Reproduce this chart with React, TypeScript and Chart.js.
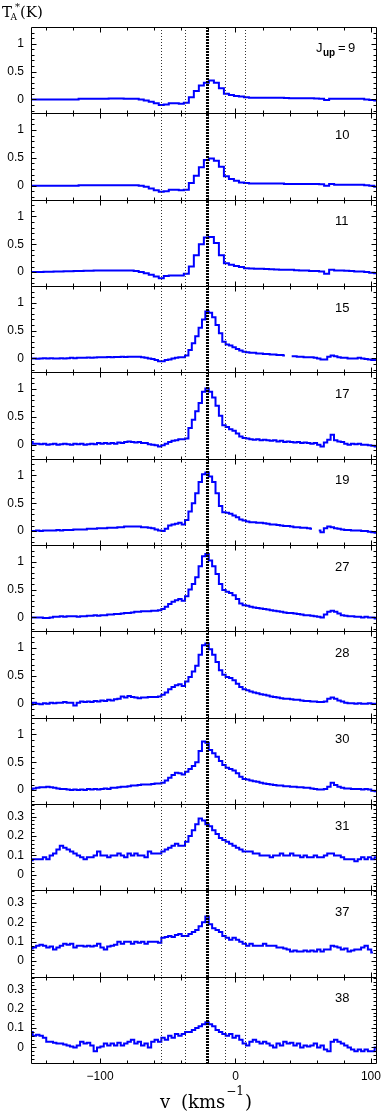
import React, { useEffect, useRef } from 'react';
import { Chart, registerables } from 'chart.js';

Chart.register(...registerables);

// ---- channel axis (km/s) ----
const V_START = -151;
const DV_COARSE = 3.7;
const DV_FINE = 2.5;
const X_MIN = -151;
const X_MAX = 104.5;

// ---- labels / reference values ----
const panelLabels = ['9', '10', '11', '15', '17', '19', '27', '28', '30', '31', '37', '38'];
const xTickValues = [-100, 0, 100];
const refVelocities = [-55, -37, -8, 7];
const systemicVelocity = -21;
const strongTicks = [0, 0.5, 1];
const weakTicks = [0, 0.1, 0.2, 0.3];
const strongRange = [-0.25, 1.3];
const weakRange = [-0.08, 0.365];

// ---- spectra (T_A* in K) ----
const j9 = [
  0, 0, 0, 0, 0, 0, 0, 0, 0, 0,
  0.01, 0.01, 0.01, 0.01, 0.012, 0.012, 0.015, 0.015, 0.015, 0.012, 0.012, 0.01,
  0, -0.02, -0.04, -0.07, -0.1, -0.09, -0.07, -0.07, -0.08, -0.06,
  0.04, 0.15, 0.25, 0.3, 0.34, 0.3, 0.2, 0.1, 0.08, 0.06, 0.05, 0.04,
  0.03, 0.03, 0.03, 0.03, 0.03, 0.03, 0.03,
  0.025, 0.02, 0.02, 0.02, 0.02, 0.02, 0.015, 0.01,
  -0.01, 0.01,
  0.01, 0.01, 0.012, 0.01, 0.01, 0.01,
  0, -0.01, -0.02,
];
const j10 = [
  0, 0, 0, 0, 0, 0, 0, 0, 0, 0,
  0.01, 0.01, 0.01, 0.01, 0.01, 0.01, 0.01, 0.01, 0.01, 0.01, 0.01, 0.01,
  0, -0.02, -0.05, -0.08, -0.11, -0.1, -0.07, -0.07, -0.08, -0.07,
  0.05, 0.18, 0.33, 0.46, 0.49, 0.45, 0.34, 0.17, 0.12, 0.09, 0.06, 0.05,
  0.04, 0.04, 0.04, 0.04, 0.04, 0.04, 0.04,
  0.03, 0.03, 0.03, 0.03, 0.03, 0.03, 0.03, 0.025,
  0, 0.03,
  0.02, 0.02, 0.02, 0.02, 0.02, 0.02,
  0.01, 0, -0.02,
];
const j11 = [
  0, 0, 0, 0.005, 0.005, 0.01,
  0.01, 0.015, 0.015, 0.02, 0.02,
  0.025, 0.025, 0.03, 0.03, 0.03, 0.03, 0.03, 0.03, 0.03, 0.03, 0.02,
  0, -0.02, -0.05, -0.08, -0.11, -0.07, -0.06, -0.06, -0.06, -0.03,
  0.1, 0.3, 0.5, 0.62, 0.63, 0.52, 0.3, 0.16, 0.13, 0.11, 0.09, 0.07,
  0.065, 0.06, 0.06, 0.055, 0.05,
  0.045, 0.04, 0.04, 0.04, 0.035, 0.03, 0.03,
  0.02, 0.02, 0.01,
  -0.03, 0.04,
  0.03, 0.03, 0.025, 0.02,
  0.01, 0.01,
  0, -0.01, -0.02,
];
const j15 = [
  0, 0, -0.005, 0, 0.005, 0, 0.005, 0, 0, 0.005, 0, 0.005, 0.01, 0.005, 0.01, 0.01, 0.01, 0.015, 0.01, 0.015,
  0.02, 0.02, 0.02, 0.025, 0.02, 0.025, 0.025, 0.03, 0.025, 0.03, 0.03, 0.03,
  0.03, 0.02, 0.01, 0, -0.01, -0.03, -0.05, -0.05, -0.03, -0.02, 0, 0.01, 0.02, 0.02,
  0.05, 0.15, 0.27, 0.4, 0.55, 0.7, 0.84, 0.82, 0.74, 0.6, 0.45, 0.3, 0.25, 0.23, 0.2, 0.17, 0.14, 0.12,
  0.11, 0.1, 0.1, 0.09, 0.09, 0.08, 0.08,
  0.07, 0.07, 0.06, 0.06, 0.05, null, 0.04, 0.04,
  0.03, 0.03, 0.02, 0.02, 0.02, 0.01, 0, -0.02,
  -0.02, 0.03, 0.05, 0.04, 0.02,
  0.01, 0.01, 0, 0, 0, 0.01, 0,
  -0.01, -0.02, -0.03, -0.03,
];
const j17 = [
  0.05, 0.02, 0.02, 0.01, 0.02, 0, 0.01, 0.02, 0, 0.01, 0.02, 0.01, 0, 0.02, 0.01, 0.02, 0, 0.01, 0.02, 0.01,
  0.03, 0.02, 0.03, 0.02, 0.03, 0.02, 0.04, 0.03, 0.05, 0.06, 0.05, 0.04, 0.05, 0.03, 0.03, 0.01, 0, -0.01, -0.03, -0.01,
  0.02, 0.05, 0.07, 0.08, 0.1, 0.1, 0.11, 0.3, 0.45, 0.6, 0.75, 0.95, 1.01, 0.95, 0.85, 0.7, 0.52, 0.35, 0.32, 0.28, 0.25, 0.2, 0.15, 0.12, 0.11,
  0.1, 0.09, 0.1, 0.08, 0.09, 0.08,
  0.07, 0.08, 0.06, 0.07, 0.05, 0.06, 0.05, 0.04, 0.05, 0.03,
  0.04, 0.03, 0.02, 0.03, 0, -0.03,
  0.04, 0.09, 0.18, 0.08, 0.06, 0.05, 0.02, 0, 0.02, 0.01, 0.02, 0, 0, -0.01, -0.02, -0.03,
];
const j19 = [
  0, 0, 0.01, 0, 0.01, 0.01,
  0.01, 0.01, 0.02, 0.01, 0.02,
  0.02, 0.02, 0.03, 0.03, 0.03,
  0.03, 0.04, 0.04, 0.04, 0.05,
  0.05, 0.05, 0.06, 0.06, 0.06,
  0.07, 0.07, 0.08, 0.08, 0.08,
  0.08, 0.08, 0.07, 0.07, 0.06,
  0.05, 0.03, 0.01, 0, 0.04, 0.1, 0.12, 0.13, 0.15, 0.12,
  0.2, 0.35, 0.5, 0.68, 0.88, 1.02, 1.05, 0.98, 0.88, 0.68, 0.45, 0.34, 0.33, 0.31, 0.28, 0.25, 0.21, 0.19, 0.17,
  0.16, 0.16, 0.15, 0.15, 0.14, 0.13,
  0.12, 0.12, 0.11, 0.1, 0.09, 0.09,
  0.08, 0.07, 0.07, 0.06, 0.06, 0.05,
  0.04, null, 0.01, -0.02, 0.05, 0.08, 0.07, 0.05,
  0.04, 0.03, 0.02, 0.02, 0.01,
  0.01, 0.01, 0, 0,
  -0.01, -0.02, -0.03,
];
const j27 = [
  0, 0, 0, 0, -0.01, -0.01,
  0, 0.01, 0.01, 0.02, 0.01,
  0.02, 0.02, 0.02, 0.01, 0.02,
  0.02, 0.03, 0.03, 0.04, 0.03,
  0.04, 0.04, 0.05, 0.05, 0.06,
  0.06, 0.07, 0.08, 0.08, 0.09,
  0.1, 0.1, 0.11, 0.11, 0.11,
  0.12, 0.12, 0.13,
  0.15, 0.19, 0.24, 0.28, 0.31, 0.33, 0.3, 0.38, 0.5, 0.6, 0.72, 0.92, 1.1, 1.14, 1.02, 0.92, 0.78, 0.6, 0.49, 0.46, 0.44, 0.4, 0.33, 0.25, 0.22, 0.21,
  0.19, 0.18, 0.17, 0.16, 0.15, 0.14,
  0.13, 0.12, 0.11, 0.1, 0.09, 0.08,
  0.08, 0.07, 0.06, 0.05, 0.04, 0.04,
  0.03, 0.02, 0.01, 0,
  0.05, 0.1, 0.12, 0.1,
  0.07, 0.04, 0.03, 0.02, 0.02,
  0.01, 0.01, 0, 0.01,
  0, 0, -0.02,
];
const j28 = [
  -0.02, 0.02, 0, -0.01, 0.01, 0, 0.02, 0.01, 0.02, 0.02, 0.03, 0.02, 0.02, -0.03, 0.02, 0.04, 0.03, 0.04, 0.03, 0.05, 0.04, 0.06, 0.05, 0.07, 0.06, 0.08, 0.09,
  0.13, 0.11, 0.14, 0.12, 0.11, 0.1, 0.11, 0.11, 0.12, 0.12, 0.12, 0.13,
  0.16, 0.2, 0.26, 0.3, 0.33, 0.35, 0.32, 0.4, 0.48, 0.58, 0.68, 0.88, 1.05, 1.08, 0.98, 0.88, 0.75, 0.6, 0.52, 0.48, 0.46, 0.42, 0.36, 0.3, 0.26, 0.24,
  0.22, 0.2, 0.19, 0.17, 0.16, 0.15,
  0.13, 0.12, 0.11, 0.1, 0.09, 0.09,
  0.08, 0.07, 0.07, 0.06, 0.05, 0.05,
  0.04, 0.04, 0.03, 0.03,
  0.04, 0.09, 0.11, 0.09,
  0.06, 0.04, 0.02, 0.01, 0.01,
  0, 0.01, 0, 0, 0.01, 0, 0,
];
const j30 = [
  0.02, 0.03, 0.04, 0.05, 0.05, 0.06, 0.05, 0.04, 0.03, 0.02, 0.02, 0.01, 0, 0.01, 0, 0.01, 0, 0.02, 0.01, 0.02,
  0.01, 0.02, 0.03, 0.02, 0.04, 0.04, 0.05, 0.06, 0.06, 0.07, 0.08, 0.08, 0.09, 0.1, 0.1, 0.1, 0.11, 0.12, 0.12, 0.13,
  0.17, 0.22, 0.27, 0.31, 0.3, 0.28, 0.33, 0.38, 0.43, 0.5, 0.7, 0.87, 0.85, 0.72, 0.66, 0.6, 0.52, 0.45, 0.4, 0.38, 0.35, 0.3, 0.24, 0.2, 0.19,
  0.17, 0.16, 0.15, 0.13, 0.12, 0.11,
  0.1, 0.09, 0.08, 0.08, 0.07, 0.07,
  0.06, 0.06, 0.05, 0.05, 0.04, 0.04,
  0.03, 0.02, 0.01, 0.01,
  0.02, 0.06, 0.13, 0.09,
  0.06, 0.04, 0.03, 0.03, 0.02,
  0.02, 0.02, 0.01, 0.02, 0.01, -0.01, -0.02,
];
const j31 = [
  0.075, 0.08, 0.08, 0.08, 0.09, 0.08, 0.1, 0.11, 0.13, 0.15,
  0.14, 0.13, 0.12, 0.11, 0.1, 0.09, 0.08, 0.09, 0.09, 0.1,
  0.12, 0.1, 0.1, 0.09, 0.1, 0.1, 0.11, 0.1, 0.09, 0.11,
  0.1, 0.11, 0.1, 0.1, 0.09, 0.12, 0.11, 0.11, 0.11, 0.12,
  0.13, 0.14, 0.15, 0.16, 0.15, 0.15, 0.17, 0.2, 0.23, 0.26,
  0.29, 0.28, 0.26, 0.25, 0.23, 0.21, 0.19, 0.18, 0.17, 0.16,
  0.15, 0.14, 0.13, 0.12, 0.12, 0.12, 0.11, 0.11, 0.1, 0.1,
  0.1, 0.09, 0.1, 0.1, 0.11, 0.1, 0.1, 0.11, 0.1, 0.1,
  0.09, 0.1, 0.09, 0.09, 0.1, 0.09, 0.09, 0.1, 0.11, 0.11,
  0.1, 0.1, 0.09, 0.08, 0.08, 0.08, 0.07, 0.08, 0.09, 0.08,
  0.09, 0.08, 0.09,
];
const j37 = [
  0.065, 0.07, 0.08, 0.085, 0.08, 0.07, 0.075, 0.06, 0.07, 0.08,
  0.09, 0.085, 0.09, 0.07, 0.08, 0.08, 0.075, 0.08, 0.075, 0.08,
  0.09, 0.07, 0.06, 0.075, 0.08, 0.085, 0.1, 0.09, 0.1, 0.1,
  0.09, 0.1, 0.095, 0.1, 0.09, 0.1, 0.1, 0.1, 0.095, 0.12,
  0.125, 0.13, 0.125, 0.135, 0.14, 0.13, 0.13, 0.14, 0.15, 0.16,
  0.18, 0.2, 0.23, 0.19, 0.17, 0.16, 0.15, 0.13, 0.12, 0.11,
  0.12, 0.11, 0.1, 0.09, 0.08, 0.09, 0.08, 0.08, 0.08, 0.09,
  0.08, 0.08, 0.08, 0.07, 0.07, 0.065, 0.06, 0.05, 0.055, 0.05,
  0.05, 0.055, 0.05, 0.055, 0.05, 0.06, 0.05, 0.06, 0.06, 0.08,
  0.075, 0.07, 0.06, 0.065, 0.05, 0.055, 0.06, 0.06, 0.07, 0.08,
  0.06, 0.045, null,
];
const j38 = [
  0.08, 0.06, 0.065, 0.06, 0.05, 0.03, 0.03, 0.025, 0.02, 0.02,
  0.015, 0.01, 0.005, 0, 0.01, 0.03, 0.02, 0.025, 0.01, -0.02,
  0, 0.005, 0.02, 0.01, 0.02, 0.01, 0.025, 0.01, 0.02, 0.03,
  0.04, 0.02, 0.03, 0.01, 0.02, 0, 0.03, 0.04, 0.03, 0.05,
  0.04, 0.06, 0.05, 0.07, 0.06, 0.07, 0.08, 0.08, 0.09, 0.1,
  0.11, 0.12, 0.13, 0.12, 0.11, 0.09, 0.08, 0.07, 0.06, 0.07,
  0.05, 0.06, 0.04, 0.02, 0.01, 0.03, 0.04, 0.03, 0.02, 0.03,
  0.02, 0.01, 0, 0.02, 0.01, 0.03, 0.02, 0.025, 0.01, 0.02,
  0, 0.01, 0.005, 0.01, 0.02, 0, 0.01, -0.01, -0.02, 0.03,
  0.04, 0.03, 0.02, 0.01, 0, -0.01, -0.02, -0.01, -0.02, -0.01,
  -0.02, -0.02, 0,
];

const spectra = [j9, j10, j11, j15, j17, j19, j27, j28, j30, j31, j37, j38];
const channelWidths = [
  DV_COARSE, DV_COARSE, DV_COARSE, DV_FINE, DV_FINE, DV_FINE,
  DV_FINE, DV_FINE, DV_FINE, DV_FINE, DV_FINE, DV_FINE,
];
const weakPanel = [false, false, false, false, false, false, false, false, false, true, true, true];

const SANS = '"Liberation Sans", Arial, sans-serif';
const SERIF = '"DejaVu Serif", "Liberation Serif", serif';

function line(ctx: CanvasRenderingContext2D, x1: number, y1: number, x2: number, y2: number) {
  ctx.beginPath();
  ctx.moveTo(x1, y1);
  ctx.lineTo(x2, y2);
  ctx.stroke();
}

const decorationPlugin = {
  id: 'decorations',
  afterDatasetsDraw(chart: any) {
    const ctx: CanvasRenderingContext2D = chart.ctx;
    const { left, right, top, bottom } = chart.chartArea;
    const xs = chart.scales.x;
    ctx.save();

    // reference velocities
    ctx.strokeStyle = '#333';
    ctx.lineWidth = 1;
    ctx.setLineDash([1, 2]);
    for (const v of refVelocities) {
      const px = Math.round(xs.getPixelForValue(v)) + 0.5;
      line(ctx, px, top, px, bottom);
    }
    ctx.strokeStyle = '#000';
    ctx.lineWidth = 3;
    ctx.setLineDash([2, 1]);
    const sx = Math.round(xs.getPixelForValue(systemicVelocity)) + 0.5;
    line(ctx, sx, top, sx, bottom);
    ctx.setLineDash([]);

    // frames and ticks
    const L = Math.round(left) + 0.5;
    const R = Math.round(right) - 0.5;
    ctx.strokeStyle = '#000';
    ctx.lineWidth = 1;
    spectra.forEach((_, k) => {
      const ys = chart.scales['y' + k];
      const t = Math.round(ys.top) + 0.5;
      const b = Math.round(ys.bottom) + 0.5;
      line(ctx, L, t, R, t);
      line(ctx, L, b, R, b);
      line(ctx, L, t, L, b);
      line(ctx, R, t, R, b);
      // x ticks
      for (let v = -140; v <= 100; v += 20) {
        const px = Math.round(xs.getPixelForValue(v)) + 0.5;
        const len = v % 100 === 0 ? 5 : 3;
        line(ctx, px, t, px, t + len);
        line(ctx, px, b, px, b - len);
      }
      // y ticks
      const weak = weakPanel[k];
      const step = weak ? 0.02 : 0.1;
      const majorEvery = 5;
      const n0 = Math.ceil(ys.min / step);
      const n1 = Math.floor(ys.max / step);
      for (let n = n0; n <= n1; n++) {
        const py = Math.round(ys.getPixelForValue(n * step)) + 0.5;
        if (py < t + 1 || py > b - 1) continue;
        const len = n % majorEvery === 0 ? 5 : 3;
        line(ctx, L, py, L + len, py);
        line(ctx, R, py, R - len, py);
      }
      // panel label
      ctx.fillStyle = '#000';
      ctx.textBaseline = 'alphabetic';
      ctx.textAlign = 'left';
      if (k === 0) {
        const base = ys.top + 25;
        ctx.font = `13px ${SANS}`;
        ctx.fillText('J', 316, base);
        ctx.font = `bold 10px ${SANS}`;
        ctx.fillText('up', 323, base + 4);
        ctx.font = `13px ${SANS}`;
        ctx.fillText('=', 338, base);
        ctx.fillText(panelLabels[k], 348, base);
      } else {
        ctx.font = `13px ${SANS}`;
        ctx.fillText(panelLabels[k], 335, ys.top + 25.5);
      }
    });
    ctx.restore();
  },
  afterDraw(chart: any) {
    const ctx: CanvasRenderingContext2D = chart.ctx;
    ctx.save();
    ctx.fillStyle = '#000';
    ctx.textAlign = 'left';
    ctx.textBaseline = 'alphabetic';
    // y title: T_A^*(K)
    ctx.font = `15px ${SERIF}`;
    ctx.fillText('T', 2, 17);
    ctx.font = `9px ${SERIF}`;
    ctx.fillText('A', 10.5, 20);
    ctx.font = `10px ${SERIF}`;
    ctx.fillText('*', 15, 10);
    ctx.font = `15px ${SERIF}`;
    ctx.fillText('(K)', 20, 17);
    // x title: v (km s^-1)
    ctx.font = `18px ${SERIF}`;
    ctx.fillText('v', 160, 1108);
    ctx.fillText('(kms', 181, 1108);
    let x = 181 + ctx.measureText('(kms').width + 1;
    ctx.font = `12px ${SERIF}`;
    ctx.fillText('\u22121', x, 1095);
    x += ctx.measureText('\u22121').width + 1;
    ctx.font = `18px ${SERIF}`;
    ctx.fillText(')', x, 1108);
    ctx.restore();
  },
};

function fmtTick(v: number) {
  const r = +(+v).toFixed(2);
  return r < 0 ? '\u2212' + Math.abs(r) : String(r);
}

export default function App() {
  const ref = useRef<HTMLCanvasElement>(null);
  useEffect(() => {
    const scales: any = {
      x: {
        type: 'linear',
        position: 'bottom',
        min: X_MIN,
        max: X_MAX,
        grid: { display: false, drawTicks: false },
        border: { display: false },
        afterBuildTicks: (s: any) => {
          s.ticks = xTickValues.map((v) => ({ value: v }));
        },
        afterFit: (s: any) => {
          s.height = 50;
          s.paddingLeft = 0;
          s.paddingRight = 0;
        },
        ticks: {
          autoSkip: false,
          maxRotation: 0,
          minRotation: 0,
          padding: 6,
          color: '#000',
          font: { family: SANS, size: 12 },
          callback: (v: any) => fmtTick(v),
        },
      },
    };
    spectra.forEach((_, k) => {
      const weak = weakPanel[k];
      const range = weak ? weakRange : strongRange;
      const tickVals = weak ? weakTicks : strongTicks;
      scales['y' + k] = {
        type: 'linear',
        position: 'left',
        stack: 'panels',
        stackWeight: 1,
        weight: spectra.length - k,
        min: range[0],
        max: range[1],
        grid: { display: false, drawTicks: false },
        border: { display: false },
        afterBuildTicks: (s: any) => {
          s.ticks = tickVals.map((v) => ({ value: v }));
        },
        afterFit: (s: any) => {
          s.width = 31;
          s.paddingTop = 0;
          s.paddingBottom = 0;
        },
        ticks: {
          autoSkip: false,
          padding: 7,
          color: '#000',
          font: { family: SANS, size: 12 },
          callback: (v: any) => fmtTick(v),
        },
      };
    });

    const datasets = spectra.map((vals, k) => ({
      label: 'J=' + panelLabels[k],
      data: vals.map((y, i) => ({ x: V_START + channelWidths[k] * i, y })),
      yAxisID: 'y' + k,
      xAxisID: 'x',
      borderColor: '#0000ff',
      backgroundColor: '#0000ff',
      borderWidth: 2,
      pointRadius: 0,
      stepped: 'middle' as const,
      spanGaps: false,
      fill: false,
    }));

    const chart = new Chart(ref.current as HTMLCanvasElement, {
      type: 'line',
      data: { datasets },
      options: {
        responsive: false,
        animation: false,
        devicePixelRatio: 1,
        layout: { padding: { top: 27, right: 5, left: 0, bottom: 0 } },
        plugins: { legend: { display: false }, tooltip: { enabled: false } },
        scales,
      } as any,
      plugins: [decorationPlugin],
    });
    return () => chart.destroy();
  }, []);

  return (
    <div style={{ position: 'fixed', left: 0, top: 0, width: 382, height: 1113, background: '#fff' }}>
      <canvas ref={ref} width={382} height={1113} style={{ display: 'block', width: 382, height: 1113 }} />
    </div>
  );
}
